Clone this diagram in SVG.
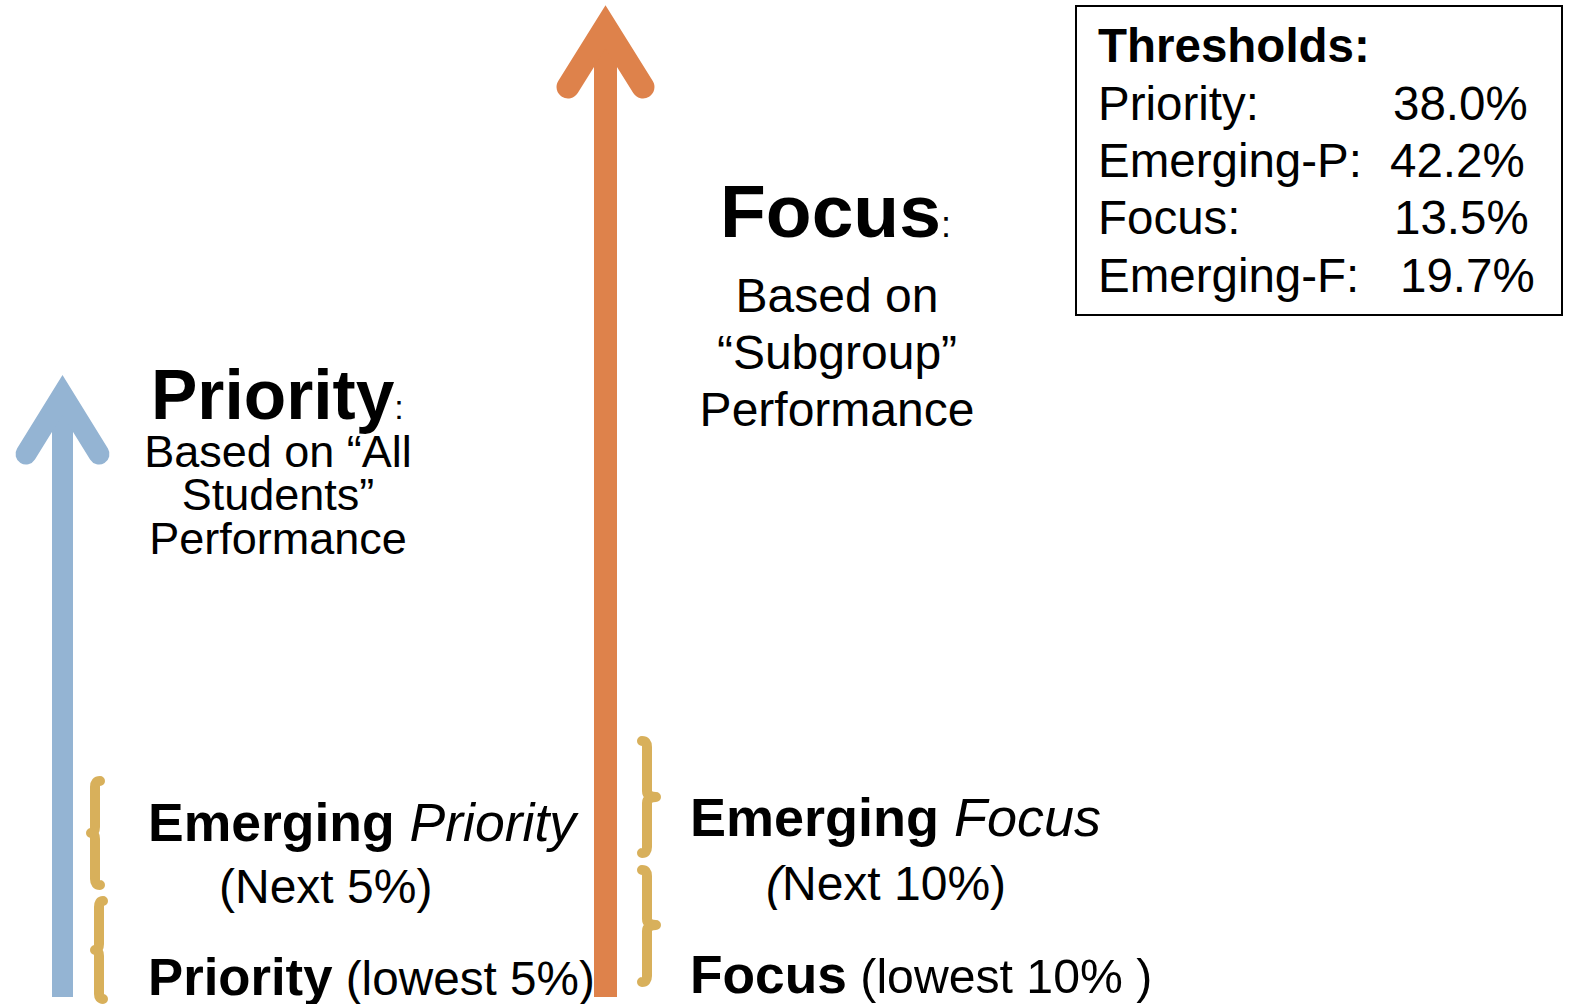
<svg xmlns="http://www.w3.org/2000/svg" width="1572" height="1004" viewBox="0 0 1572 1004">
<style>
text{font-family:"Liberation Sans",Arial,sans-serif;fill:#000}
.b{font-weight:bold}
.i{font-style:italic}
.brace{fill:none;stroke:#d8b05b;stroke-width:10;stroke-linecap:round;stroke-linejoin:round}
</style>
<rect width="1572" height="1004" fill="#fff"/>
<g id="connectors">
  <g id="arrow-priority">
    <rect x="52" y="396" width="21" height="601" fill="#94b4d3"/>
    <polyline points="26,454 62.5,395 99,454" fill="none" stroke="#94b4d3" stroke-width="21" stroke-linecap="round" stroke-linejoin="miter"/>
  </g>
  <g id="arrow-focus">
    <rect x="594" y="36" width="23" height="961" fill="#de824b"/>
    <polyline points="568,87 605.5,27 643,87" fill="none" stroke="#de824b" stroke-width="23" stroke-linecap="round" stroke-linejoin="miter"/>
  </g>
  <g id="braces">
    <path class="brace" d="M100,781 Q95,781 95,787 L95,827 Q95,833 91,833 Q95,833 95,839 L95,879 Q95,885 100,885"/>
    <path class="brace" d="M103,901 Q99,901 99,907 L99,944 Q99,950 95,950 Q99,950 99,956 L99,994 Q99,999 103,999"/>
    <path class="brace" d="M642,741 Q647,741 647,747 L647,791 Q647,797 656,797 Q647,797 647,803 L647,847 Q647,853 642,853"/>
    <path class="brace" d="M642,870 Q647,870 647,876 L647,919 Q647,925 656,925 Q647,925 647,931 L647,976 Q647,982 642,982"/>
  </g>
</g>
<g id="node-priority-title">
  <text x="151" y="419" font-size="69.5"><tspan class="b">Priority</tspan><tspan font-size="34">:</tspan></text>
  <text x="278" y="467" font-size="45" text-anchor="middle">Based on “All</text>
  <text x="278" y="510" font-size="45" text-anchor="middle">Students”</text>
  <text x="278" y="554" font-size="45" text-anchor="middle">Performance</text>
</g>
<g id="node-focus-title">
  <text x="720" y="237" font-size="75"><tspan class="b">Focus</tspan><tspan font-size="36">:</tspan></text>
  <text x="837" y="312" font-size="48" text-anchor="middle">Based on</text>
  <text x="837" y="369" font-size="48" text-anchor="middle">“Subgroup”</text>
  <text x="837" y="426" font-size="48" text-anchor="middle">Performance</text>
</g>
<g id="node-thresholds">
  <rect x="1076" y="6" width="486" height="309" fill="#fff" stroke="#000" stroke-width="2"/>
  <text x="1098" y="62" font-size="47.5" class="b">Thresholds:</text>
  <text x="1098" y="120" font-size="47.5">Priority:</text>
  <text x="1393" y="120" font-size="47.5">38.0%</text>
  <text x="1098" y="177" font-size="47.5">Emerging-P:</text>
  <text x="1390" y="177" font-size="47.5">42.2%</text>
  <text x="1098" y="234" font-size="47.5">Focus:</text>
  <text x="1394" y="234" font-size="47.5">13.5%</text>
  <text x="1098" y="292" font-size="47.5">Emerging-F:</text>
  <text x="1400" y="292" font-size="47.5">19.7%</text>
</g>
<g id="node-emerging-priority">
  <text x="148" y="841" font-size="53.5"><tspan class="b">Emerging</tspan> <tspan class="i">Priority</tspan></text>
  <text x="219" y="903" font-size="48">(Next 5%)</text>
</g>
<g id="node-priority-low">
  <text x="148" y="995" font-size="52.7"><tspan class="b">Priority</tspan><tspan font-size="47.7"> (lowest 5%)</tspan></text>
</g>
<g id="node-emerging-focus">
  <text x="690" y="836" font-size="54"><tspan class="b">Emerging</tspan> <tspan class="i">Focus</tspan></text>
  <text x="766" y="900" font-size="48"><tspan class="i">(</tspan>Next 10%)</text>
</g>
<g id="node-focus-low">
  <text x="690" y="993" font-size="53.3"><tspan class="b">Focus</tspan><tspan font-size="48.2"> (lowest 10% )</tspan></text>
</g>
</svg>
